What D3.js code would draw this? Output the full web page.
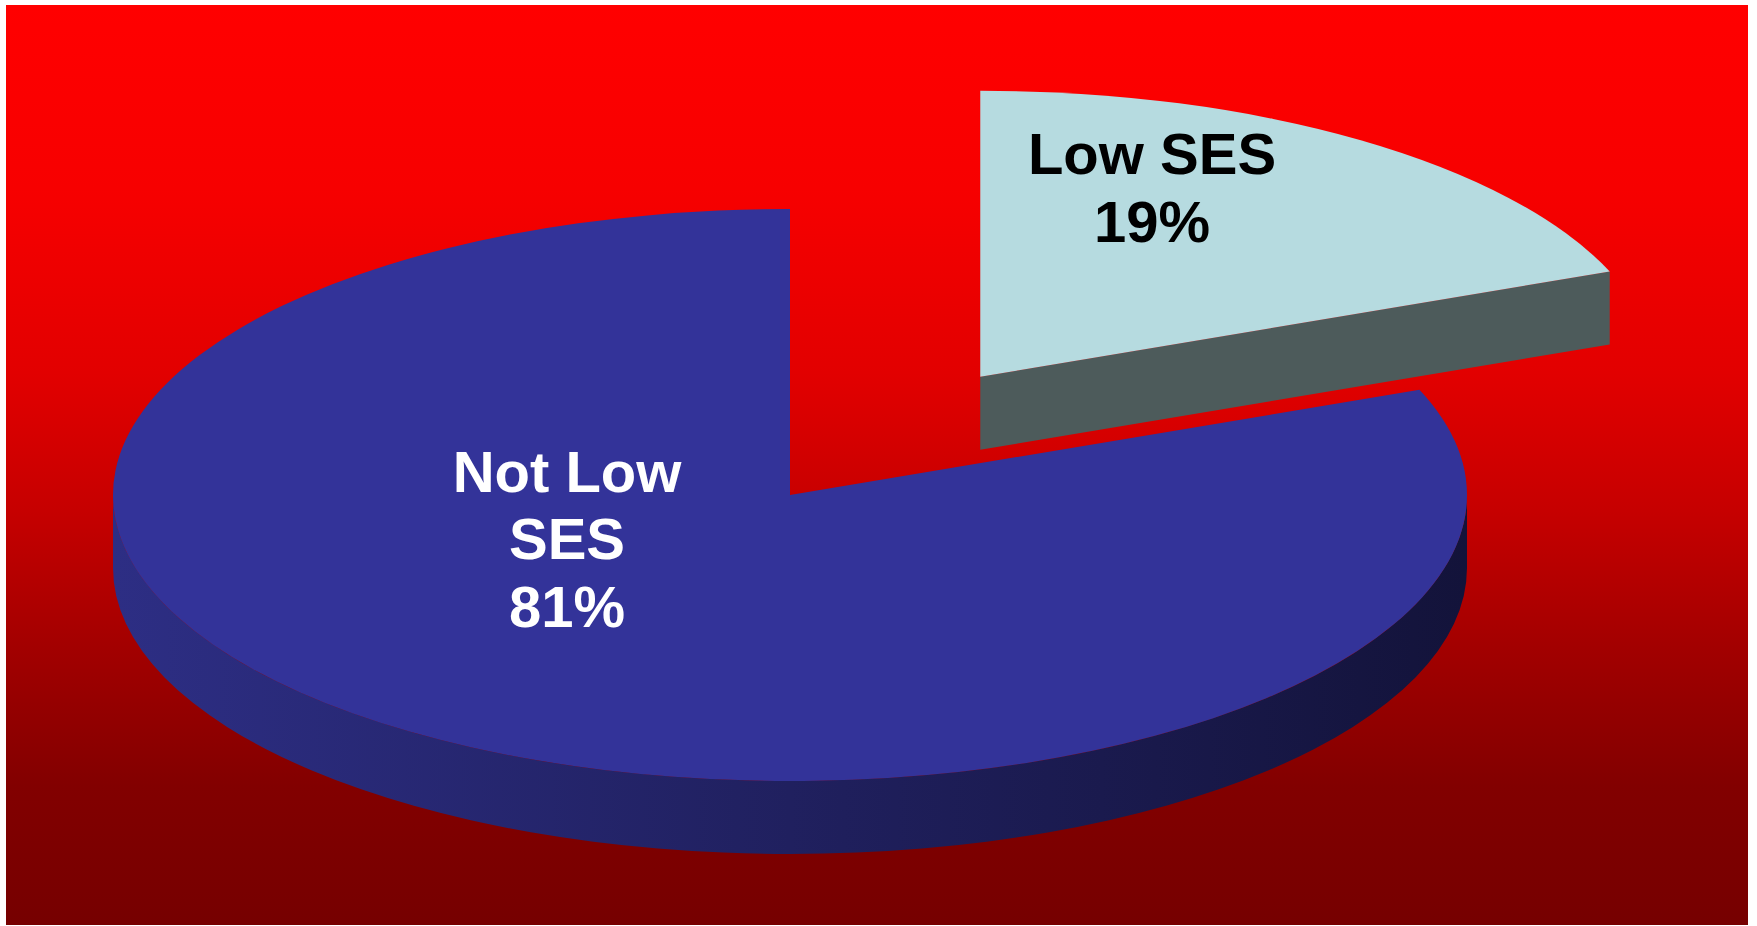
<!DOCTYPE html>
<html>
<head>
<meta charset="utf-8">
<script src="https://cdn.jsdelivr.net/npm/d3@7"></script>
<style>
  body { margin: 0; background: #fff; }
  svg { display: block; }
</style>
</head>
<body>
<script>
// data
const categories = ["Low SES", "Not Low SES"];
const values = [19, 81];
const exploded = [0.5, 0];

// look
const topColors = ["#b6dbe0", "#333399"];
const wallColors = ["#4d5b5b", "url(#side_grad)"];
const textColors = ["#000", "#fff"];

const W = 1757, H = 926;
const cx = 790, cy = 495;      // pie centre
const rx = 677, ry = 286;      // ellipse radii (tilted pie)
const depth = 73;              // thickness
const fontSize = 58, lineH = 67.5;
// middle baseline of each label block
const labelAt = [[1152, 208], [567, 559]];

const svg = d3.select("body").append("svg")
    .attr("width", W)
    .attr("height", H);

let defs = svg.append("defs");

let bg = defs.append("linearGradient")
    .attr("id", "bg_grad")
    .attr("x1", 0).attr("y1", 0).attr("x2", 0).attr("y2", 1);
[[0, "#ff0000"], [0.2, "#f70000"], [0.4, "#e20000"], [0.55, "#c60000"],
 [0.7, "#a20000"], [0.85, "#820000"], [1, "#760000"]].forEach(s => {
    bg.append("stop").attr("offset", s[0]).attr("stop-color", s[1]);
});

let side = defs.append("linearGradient")
    .attr("id", "side_grad")
    .attr("gradientUnits", "userSpaceOnUse")
    .attr("x1", cx - rx).attr("y1", 0).attr("x2", cx + rx).attr("y2", 0);
side.append("stop").attr("offset", 0).attr("stop-color", "#2d2e84");
side.append("stop").attr("offset", 0.5).attr("stop-color", "#20205f");
side.append("stop").attr("offset", 1).attr("stop-color", "#13133a");

svg.append("rect")
    .attr("x", 6).attr("y", 5)
    .attr("width", 1742).attr("height", 920)
    .attr("fill", "url(#bg_grad)");

// angles from d3.pie, clockwise from 12 o'clock
const pie = d3.pie().sort(null).value(d => d.value);
const slices = pie(categories.map((c, i) => ({ name: c, value: values[i], i: i })));
const total = d3.sum(values);

// point on the tilted rim, theta clockwise from the top
function rim(o, t, dy) {
    return [o[0] + rx * Math.sin(t), o[1] - ry * Math.cos(t) + (dy || 0)];
}

function origin(d) {
    let e = exploded[d.index];
    let m = (d.startAngle + d.endAngle) / 2;
    return [cx + e * rx * Math.sin(m), cy - e * ry * Math.cos(m)];
}

function arcTo(p, large, sweep) {
    return `A${rx},${ry} 0 ${large} ${sweep} ${p[0]},${p[1]}`;
}

function topPath(d) {
    let o = origin(d);
    let a = rim(o, d.startAngle), b = rim(o, d.endAngle);
    let large = (d.endAngle - d.startAngle) > Math.PI ? 1 : 0;
    return `M${o[0]},${o[1]}L${a[0]},${a[1]}` + arcTo(b, large, 1) + "Z";
}

// front part of the outer wall (theta between 90 and 270 deg)
function outerWall(d) {
    let t0 = Math.max(d.startAngle, Math.PI / 2);
    let t1 = Math.min(d.endAngle, 3 * Math.PI / 2);
    if (t1 <= t0) return null;
    let o = origin(d);
    let a = rim(o, t0), b = rim(o, t1);
    let b2 = rim(o, t1, depth), a2 = rim(o, t0, depth);
    return `M${a[0]},${a[1]}` + arcTo(b, 0, 1) +
        `L${b2[0]},${b2[1]}` + arcTo(a2, 0, 0) + "Z";
}

// radial wall at the end edge, visible when it faces down
function endWall(d) {
    let n = d.endAngle + Math.PI / 2;
    if (-Math.cos(n) <= 0.01 || d.endAngle >= 2 * Math.PI - 1e-6) return null;
    let o = origin(d);
    let b = rim(o, d.endAngle);
    return `M${o[0]},${o[1]}L${b[0]},${b[1]}L${b[0]},${b[1] + depth}L${o[0]},${o[1] + depth}Z`;
}

let g = svg.append("g").attr("class", "pie");

let sl = g.selectAll(".slice")
    .data(slices.slice().reverse())
    .enter()
    .append("g")
    .attr("class", "slice");

sl.append("path")
    .attr("d", d => outerWall(d))
    .attr("fill", d => wallColors[d.index]);

sl.append("path")
    .attr("d", d => endWall(d))
    .attr("fill", d => wallColors[d.index]);

sl.append("path")
    .attr("d", d => topPath(d))
    .attr("fill", d => topColors[d.index]);

// labels
function wrapWords(str, maxW, probe) {
    let words = str.split(" "), lines = [], cur = "";
    words.forEach(w => {
        let t = cur ? cur + " " + w : w;
        probe.text(t);
        if (probe.node().getComputedTextLength() > maxW && cur) {
            lines.push(cur);
            cur = w;
        } else {
            cur = t;
        }
    });
    if (cur) lines.push(cur);
    return lines;
}

let labels = svg.append("g")
    .style("font-family", "'Liberation Sans', Arial, sans-serif")
    .style("font-weight", "bold")
    .style("font-size", fontSize + "px");

let probe = labels.append("text").attr("x", -1000).attr("y", -1000);

slices.forEach(d => {
    let lines = wrapWords(d.data.name, 255, probe);
    lines.push(Math.round(d.value / total * 100) + "%");
    let pos = labelAt[d.index];
    let y0 = pos[1] - (lines.length - 1) / 2 * lineH;
    let t = labels.append("text")
        .attr("text-anchor", "middle")
        .attr("fill", textColors[d.index]);
    lines.forEach((ln, k) => {
        t.append("tspan")
            .attr("x", pos[0])
            .attr("y", y0 + k * lineH)
            .text(ln);
    });
});

probe.remove();
</script>
</body>
</html>
